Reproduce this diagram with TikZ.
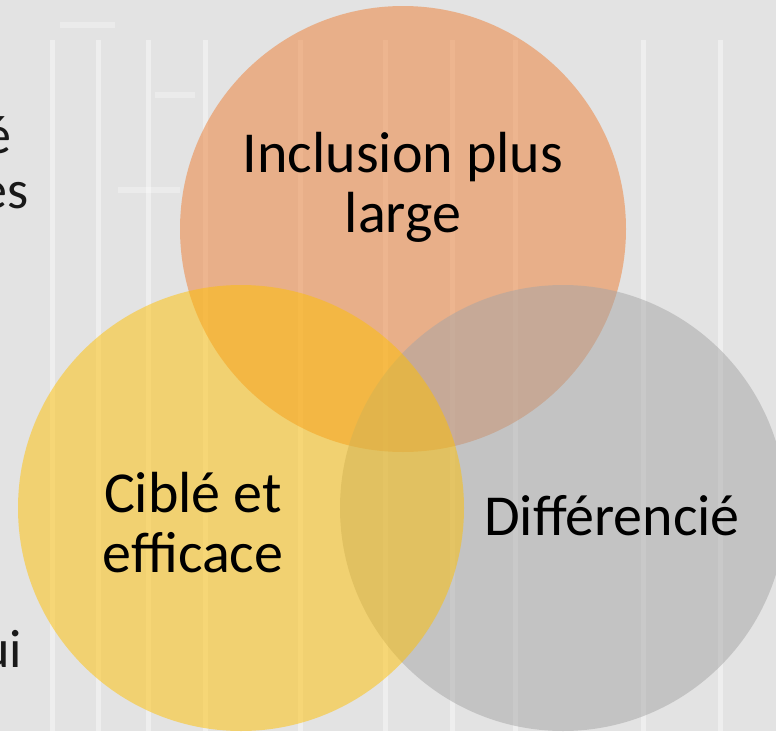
\documentclass[tikz,border=0pt]{standalone}
\usepackage{fontspec}
\setmainfont{Carlito}
\begin{document}
\begin{tikzpicture}[x=1pt,y=-1pt,
  bubble/.style={circle,minimum size=446pt,inner sep=0pt,fill opacity=0.5},
  label/.style={font=\fontsize{58}{60}\selectfont,align=center,text=black,inner sep=0pt,anchor=base},
  side/.style={font=\fontsize{54}{60}\selectfont,text=black!90,inner sep=0pt,anchor=base east},
  stripe/.style={white,line width=5pt,opacity=0.4}]
\definecolor{bgc}{HTML}{E3E3E3}
\definecolor{orangeF}{HTML}{ED7D31}
\definecolor{grayF}{HTML}{A5A5A5}
\definecolor{yellowF}{HTML}{FFC000}
\fill[bgc] (0,0) rectangle (776,731);
\useasboundingbox (0,0) rectangle (776,731);
% faint background stripes of the photo
\foreach \x in {52,98,148,205,300,385,452,515,643,720}
  \draw[stripe] (\x,40) -- (\x,731);
\draw[white,line width=6pt,opacity=0.3] (60,25) -- (115,25) (155,95) -- (195,95) (118,190) -- (180,190);
% fragments of text cut at left edge
\node[side] (t1) at (12,153) {é};
\node[side] (t2) at (29,208) {es};
\node[side] (t3) at (22,667) {ui};
% circles
\node[bubble,fill=orangeF] (inc) at (403,229) {};
\node[bubble,fill=grayF] (dif) at (563,508) {};
\node[bubble,fill=yellowF] (cib) at (241,508) {};
% labels (base anchor = baseline of last line)
\node[label] (linc) at (403,232) {Inclusion plus\\large};
\node[label] (lcib) at (193,572) {Ciblé et\\efficace};
\node[label] (ldif) at (612,535) {Différencié};
\end{tikzpicture}
\end{document}
